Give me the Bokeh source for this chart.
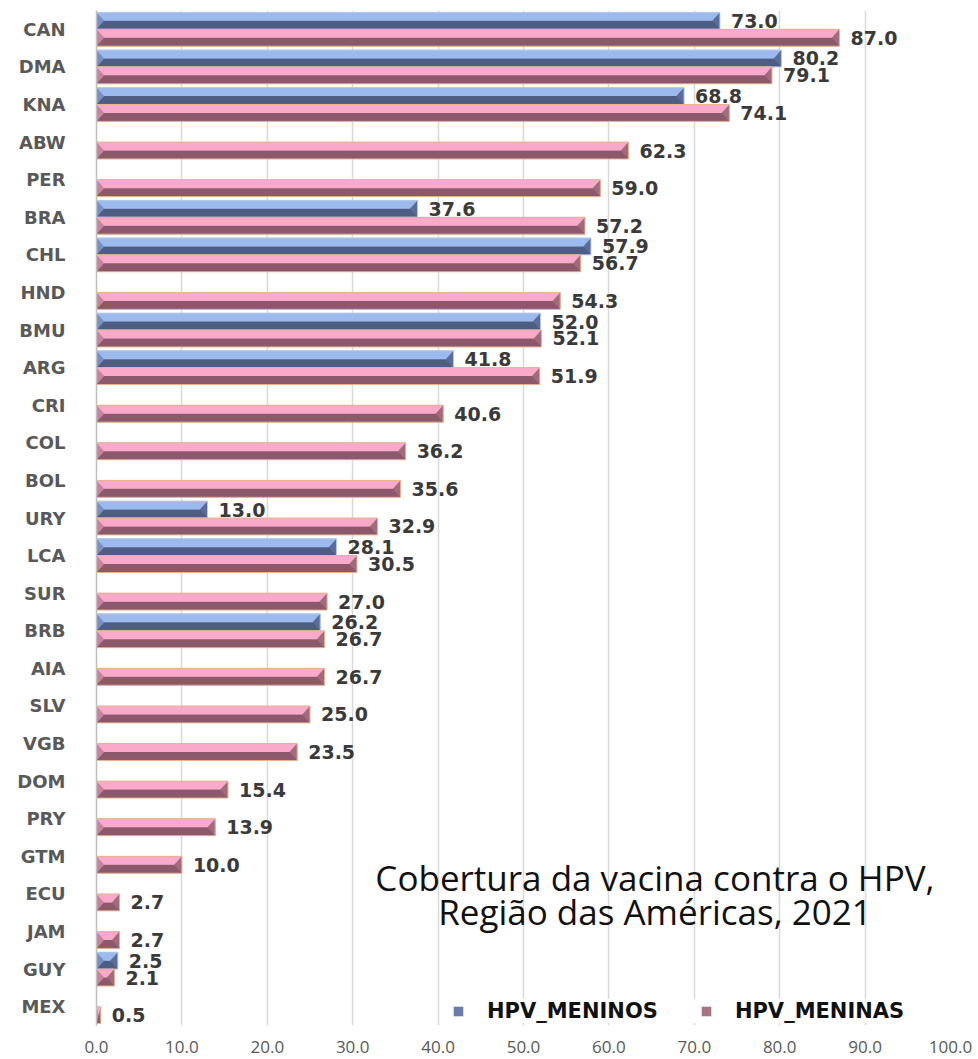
from bokeh.plotting import figure
from bokeh.models import (Range1d, FixedTicker, PrintfTickFormatter, ColumnDataSource,
                          Label, Legend, LegendItem)
from bokeh.core.properties import value
from bokeh.embed import file_html
from bokeh.resources import INLINE

categories = ["CAN", "DMA", "KNA", "ABW", "PER", "BRA", "CHL", "HND", "BMU", "ARG",
              "CRI", "COL", "BOL", "URY", "LCA", "SUR", "BRB", "AIA", "SLV", "VGB",
              "DOM", "PRY", "GTM", "ECU", "JAM", "GUY", "MEX"]
meninos = [73.0, 80.2, 68.8, None, None, 37.6, 57.9, None, 52.0, 41.8,
           None, None, None, 13.0, 28.1, None, 26.2, None, None, None,
           None, None, None, None, None, 2.5, None]
meninas = [87.0, 79.1, 74.1, 62.3, 59.0, 57.2, 56.7, 54.3, 52.1, 51.9,
           40.6, 36.2, 35.6, 32.9, 30.5, 27.0, 26.7, 26.7, 25.0, 23.5,
           15.4, 13.9, 10.0, 2.7, 2.7, 2.1, 0.5]
x_ticks = [0, 10, 20, 30, 40, 50, 60, 70, 80, 90, 100]
series_names = ["HPV_MENINOS", "HPV_MENINAS"]
title_lines = ["Cobertura da vacina contra o HPV,", "Região das Américas, 2021"]

n = len(categories)
pos = [n - 1 - i for i in range(n)]
H = 0.45  # bar thickness in category units

p = figure(width=978, height=1059, output_backend="svg", toolbar_location=None,
           x_range=Range1d(0, 100), y_range=Range1d(-0.5, n - 0.5),
           min_border_left=96, min_border_right=28, min_border_top=10,
           min_border_bottom=34)
p.outline_line_color = None
p.background_fill_color = "white"
p.ygrid.grid_line_color = None
p.xgrid.grid_line_color = "#D9D9D9"
p.xgrid.grid_line_width = 1.5
p.xgrid.ticker = FixedTicker(ticks=x_ticks)

styles = {
    0: dict(light="#9CBAEE", dark="#4E5D82", lcap="#7690C6", rcap="#5A6C98",
            line="#B9C9EA", icon="#6A7CAC"),
    1: dict(light="#F9A9CA", dark="#8B596B", lcap="#C9829E", rcap="#A06C7C",
            line="#E9B48C", icon="#A87483"),
}


def draw_series(vals, k):
    st = styles[k]
    xs, ys = [], []
    for v, y in zip(vals, pos):
        if v is None:
            continue
        xs.append(v)
        ys.append(y)
    if k == 0:
        base = [y for y in ys]
    else:
        base = [y - H for y in ys]
    mid = [b + H / 2 for b in base]
    top = [b + H for b in base]
    src = ColumnDataSource(dict(x=xs, base=base, mid=mid, top=top,
                                lab=["%.1f" % v for v in xs],
                                cy=[b + H / 2 for b in base]))
    # full bar underneath (also serves as legend icon)
    leg = p.quad(left=0, right="x", bottom="base", top="top", source=src,
                 fill_color=st["icon"], line_color=None)
    p.quad(left=0, right="x", bottom="base", top="mid", source=src,
           fill_color=st["dark"], line_color=None)
    p.quad(left=0, right="x", bottom="mid", top="top", source=src,
           fill_color=st["light"], line_color=None)
    # bevel caps
    lx, ly, rx, ry = [], [], [], []
    for v, b in zip(xs, base):
        d = min(0.9, v / 2.0)
        lx.append([0, d, 0])
        ly.append([b + H, b + H / 2, b])
        rx.append([v, v - d, v])
        ry.append([b + H, b + H / 2, b])
    p.patches(lx, ly, fill_color=st["lcap"], line_color=None)
    p.patches(rx, ry, fill_color=st["rcap"], line_color=None)
    p.quad(left=0, right="x", bottom="base", top="top", source=src,
           fill_color=None, line_color=st["line"], line_width=1)
    p.text(x="x", y="cy", text="lab", source=src, x_offset=11,
           text_baseline="middle", text_align="left",
           text_font=value("DejaVu Sans"), text_font_style="bold",
           text_font_size="19px", text_color="#3A3A3A")
    return leg


leg0 = draw_series(meninos, 0)
leg1 = draw_series(meninas, 1)

# axes
p.xaxis.ticker = FixedTicker(ticks=x_ticks)
p.xaxis.formatter = PrintfTickFormatter(format="%.1f")
p.xaxis.axis_line_color = None
p.xaxis.major_tick_line_color = None
p.xaxis.minor_tick_line_color = None
p.xaxis.major_label_text_font = "Open Sans"
p.xaxis.major_label_text_font_size = "17px"
p.xaxis.major_label_text_color = "#595959"
p.xaxis.major_label_standoff = 9

p.yaxis.ticker = FixedTicker(ticks=pos)
p.yaxis.major_label_overrides = {y: c for y, c in zip(pos, categories)}
p.yaxis.axis_line_color = "#BFBFBF"
p.yaxis.axis_line_width = 1.5
p.yaxis.major_tick_line_color = None
p.yaxis.minor_tick_line_color = None
p.yaxis.major_label_text_font = "DejaVu Sans"
p.yaxis.major_label_text_font_style = "bold"
p.yaxis.major_label_text_font_size = "18px"
p.yaxis.major_label_text_color = "#595959"
p.yaxis.major_label_standoff = 25

# title annotation inside plot
for i, t in enumerate(title_lines):
    p.add_layout(Label(x=65.4, y=3.43 - 0.9 * i, text=t, text_align="center",
                       text_baseline="middle", text_font="Open Sans",
                       text_font_size="35px", text_color="#111111"))

legend = Legend(items=[LegendItem(label=series_names[0], renderers=[leg0]),
                       LegendItem(label=series_names[1], renderers=[leg1])],
                orientation="horizontal", location=(356, 2),
                glyph_width=12, glyph_height=12, label_standoff=23, spacing=42,
                padding=8, margin=0,
                label_text_font="DejaVu Sans", label_text_font_style="bold",
                label_text_font_size="21px", label_text_color="#111111",
                background_fill_color="white", background_fill_alpha=1.0,
                border_line_color=None)
p.add_layout(legend)

open("out.html", "w").write(file_html(p, INLINE))
